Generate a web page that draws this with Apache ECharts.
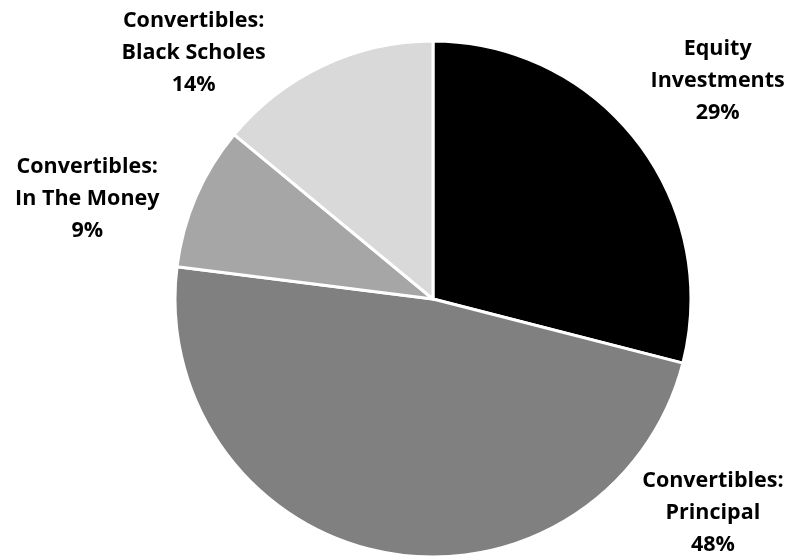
<!DOCTYPE html>
<html><head><meta charset="utf-8">
<script src="https://cdn.jsdelivr.net/npm/echarts@6/dist/echarts.min.js"></script>
<style>html,body{margin:0;padding:0;background:#fff;}#c{width:802px;height:558px;}</style>
</head><body><div id="c"></div>
<script>
const categories = ['Equity\nInvestments', 'Convertibles:\nPrincipal', 'Convertibles:\nIn The Money', 'Convertibles:\nBlack Scholes'];
const values = [29, 48, 9, 14];
const colors = ['#000000', '#808080', '#a6a6a6', '#d9d9d9'];
const labelShift = [[60, -48], [337, 4], [-94, 18], [-116, 4]];

const chart = echarts.init(document.getElementById('c'), null, {renderer: 'canvas'});
chart.setOption({
  animation: false,
  series: [{
    type: 'pie',
    center: [433, 299],
    radius: 258,
    startAngle: 90,
    clockwise: true,
    data: categories.map((n, i) => ({name: n, value: values[i], itemStyle: {color: colors[i]}})),
    itemStyle: {borderColor: '#fff', borderWidth: 3},
    label: {
      show: true,
      position: 'outside',
      formatter: p => p.name + '\n' + p.value + '%',
      fontFamily: 'Open Sans',
      fontWeight: 'bold',
      fontSize: 21.5,
      lineHeight: 32,
      color: '#000',
      align: 'center',
      overflow: 'none',
      edgeDistance: 0
    },
    labelLine: {show: false, length: 20, length2: 0},
    labelLayout: p => ({align: 'center', verticalAlign: 'middle', width: 200, dx: labelShift[p.dataIndex][0], dy: labelShift[p.dataIndex][1]})
  }]
});
</script></body></html>
